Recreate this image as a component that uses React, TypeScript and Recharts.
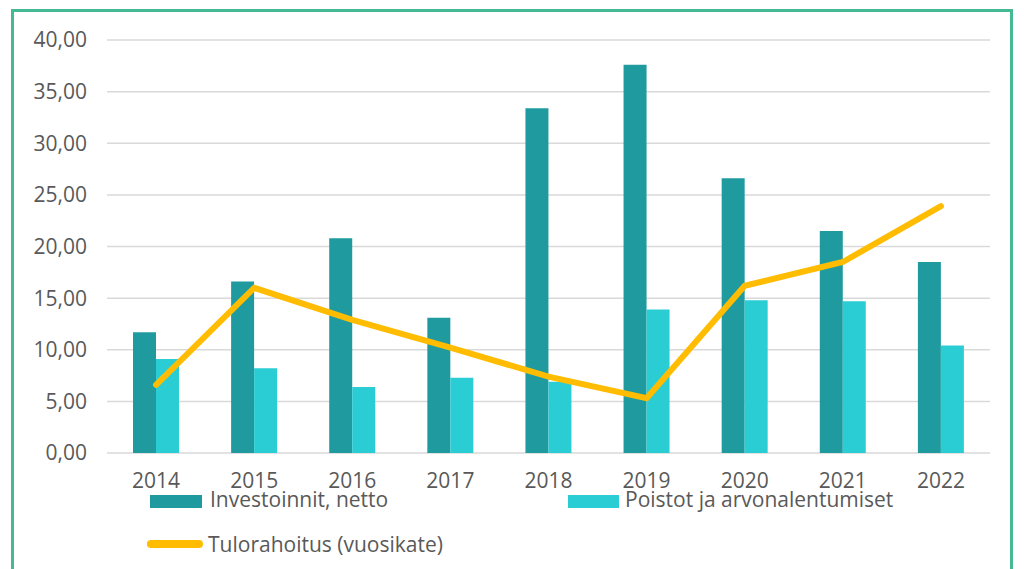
import React from "react";
import { ComposedChart, Bar, Line, XAxis, YAxis, CartesianGrid } from "recharts";

const years = ["2014", "2015", "2016", "2017", "2018", "2019", "2020", "2021", "2022"];
const investoinnit = [11.7, 16.6, 20.8, 13.1, 33.4, 37.6, 26.6, 21.5, 18.5];
const poistot = [9.1, 8.2, 6.4, 7.3, 6.9, 13.9, 14.8, 14.7, 10.4];
const tulorahoitus = [6.6, 16.0, 12.9, 10.2, 7.4, 5.3, 16.2, 18.5, 23.9];
const yTicks = [0, 5, 10, 15, 20, 25, 30, 35, 40];

const data = years.map((y, i) => ({
  year: y,
  inv: investoinnit[i],
  poi: poistot[i],
  tulo: tulorahoitus[i],
}));

const DARK = "#1f9ba0";
const LIGHT = "#2bcdd5";
const LINE = "#ffbc00";
const TEXT = "#595959";
const FONT = "'Open Sans', sans-serif";

const fmt = (v: number) => v.toFixed(2).replace(".", ",");

export default function App() {
  return (
    <div
      style={{
        position: "absolute",
        left: 0,
        top: 0,
        width: 1024,
        height: 569,
        background: "#ffffff",
        overflow: "hidden",
        fontFamily: FONT,
      }}
    >
      <div
        style={{
          position: "absolute",
          left: 11,
          top: 9,
          width: 1002,
          height: 600,
          border: "3px solid #45b993",
          boxSizing: "border-box",
        }}
      />
      <div style={{ position: "absolute", left: 0, top: 0 }}>
        <ComposedChart
          width={1024}
          height={569}
          data={data}
          margin={{ top: 40, right: 34, bottom: 86, left: 0 }}
          barGap={0}
        >
          <CartesianGrid vertical={false} stroke="#d9d9d9" strokeWidth={1.5} />
          <XAxis
            dataKey="year"
            axisLine={false}
            tickLine={false}
            tickSize={0}
            tickMargin={20}
            height={30}
            tick={{ fill: TEXT, fontSize: 21, fontFamily: FONT }}
            interval={0}
          />
          <YAxis
            domain={[0, 40]}
            ticks={yTicks}
            tickFormatter={fmt}
            axisLine={false}
            tickLine={false}
            tickSize={0}
            tickMargin={20}
            width={107}
            tick={{ fill: TEXT, fontSize: 21, fontFamily: FONT }}
          />
          <Bar dataKey="inv" fill={DARK} barSize={23} isAnimationActive={false} />
          <Bar dataKey="poi" fill={LIGHT} barSize={23} isAnimationActive={false} />
          <Line
            dataKey="tulo"
            stroke={LINE}
            strokeWidth={6}
            strokeLinecap="round"
            dot={false}
            activeDot={false}
            isAnimationActive={false}
          />
        </ComposedChart>
      </div>
      <div style={{ position: "absolute", left: 150, top: 495, width: 52, height: 13, background: DARK }} />
      <div style={{ position: "absolute", left: 210, top: 485, fontSize: 21, color: TEXT, lineHeight: "28px", whiteSpace: "nowrap" }}>
        Investoinnit, netto
      </div>
      <div style={{ position: "absolute", left: 568, top: 495, width: 51, height: 13, background: LIGHT }} />
      <div style={{ position: "absolute", left: 625, top: 485, fontSize: 21, color: TEXT, lineHeight: "28px", whiteSpace: "nowrap" }}>
        Poistot ja arvonalentumiset
      </div>
      <div style={{ position: "absolute", left: 147, top: 540, width: 56, height: 8, borderRadius: 4, background: LINE }} />
      <div style={{ position: "absolute", left: 208, top: 530, fontSize: 21, color: TEXT, lineHeight: "28px", whiteSpace: "nowrap" }}>
        Tulorahoitus (vuosikate)
      </div>
    </div>
  );
}
